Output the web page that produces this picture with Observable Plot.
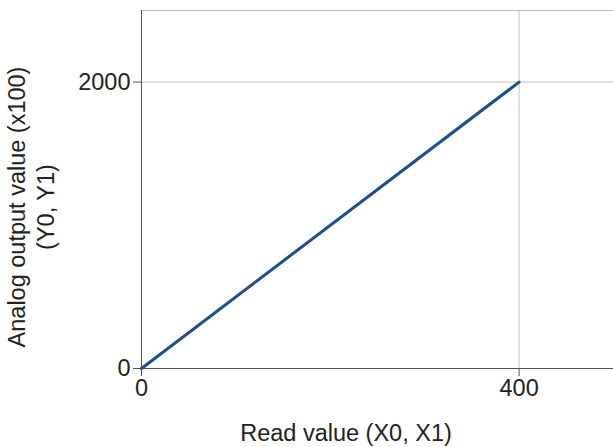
<!DOCTYPE html>
<html><head><meta charset="utf-8">
<script src="https://cdn.jsdelivr.net/npm/d3@7"></script>
<script src="https://cdn.jsdelivr.net/npm/@observablehq/plot@0.6"></script>
<style>body{margin:0;background:#fff;} svg{display:block;}</style>
</head><body><div id="chart"></div>
<script>
const readValues = [0, 400];
const outputValues = [0, 2000];
const xTicks = [0, 400];
const yTicks = [0, 2000];
const xLabel = "Read value (X0, X1)";
const yLabelLines = ["Analog output value (x100)", "(Y0, Y1)"];

const FONT = "'Liberation Sans', Arial, sans-serif";
const FS = 23.5;
const data = readValues.map((x, i) => ({x, y: outputValues[i]}));

const chart = Plot.plot({
  width: 613, height: 447,
  marginLeft: 141, marginRight: 0, marginTop: 10, marginBottom: 79,
  style: {fontFamily: FONT, fontSize: FS + "px", color: "#222", background: "#fff"},
  x: {domain: [0, 500]},
  y: {domain: [0, 2500]},
  marks: [
    Plot.gridX(xTicks.filter(d => d !== 0), {stroke: "#c4c4c4", strokeOpacity: 1}),
    Plot.gridY(yTicks.filter(d => d !== 0), {stroke: "#c4c4c4", strokeOpacity: 1}),
    Plot.frame({anchor: "top", stroke: "#bbb"}),
    Plot.ruleX([0], {stroke: "#555"}),
    Plot.ruleY([0], {stroke: "#555"}),
    Plot.axisX(xTicks, {label: null, tickSize: 8, tickPadding: 3, stroke: "#555", fill: "#222", fontSize: FS, tickFormat: d => String(d)}),
    Plot.axisY(yTicks, {label: null, tickSize: 8, tickPadding: 3, stroke: "#555", fill: "#222", fontSize: FS, tickFormat: d => String(d)}),
    Plot.line(data, {x: "x", y: "y", stroke: "#1b4f8e", strokeWidth: 3})
  ]
});
document.getElementById("chart").appendChild(chart);

const svg = d3.select(chart);
svg.append("text")
  .attr("x", 346).attr("y", 441)
  .attr("text-anchor", "middle")
  .attr("font-family", FONT)
  .attr("font-size", FS).attr("fill", "#222")
  .text(xLabel);
const yl = svg.append("text")
  .attr("transform", "translate(32,207) rotate(-90)")
  .attr("text-anchor", "middle")
  .attr("font-family", FONT)
  .attr("font-size", FS).attr("fill", "#222");
yLabelLines.forEach((t, i) => {
  yl.append("tspan").attr("x", 0).attr("y", i === 0 ? -7 : 22).text(t);
});
</script>
</body></html>
